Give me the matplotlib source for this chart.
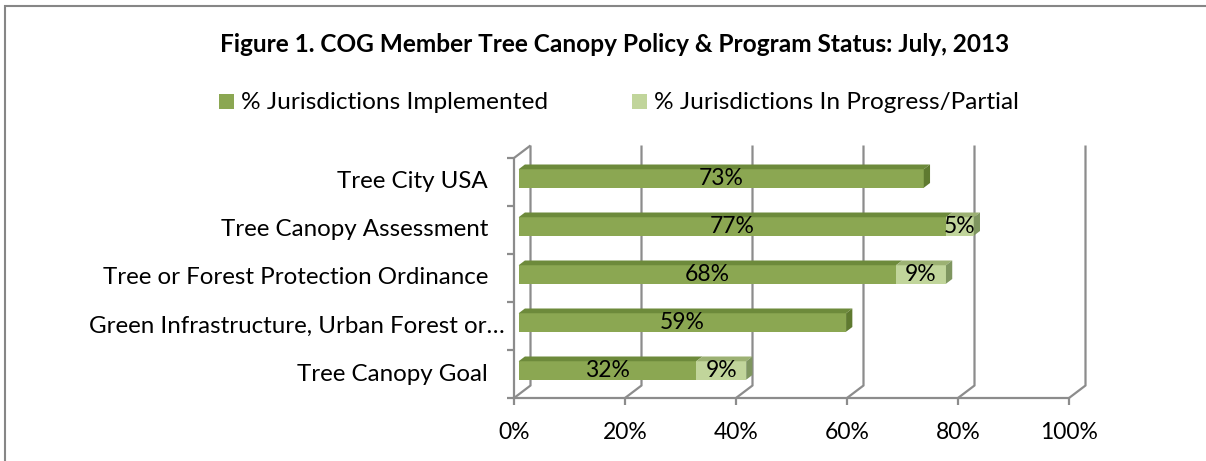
import numpy as np
import matplotlib
matplotlib.use("Agg")
import matplotlib.pyplot as plt
from matplotlib.patches import Polygon, Rectangle
from matplotlib.transforms import offset_copy, IdentityTransform

categories = ["Tree Canopy Goal",
              "Green Infrastructure, Urban Forest or\u2026",
              "Tree or Forest Protection Ordinance",
              "Tree Canopy Assessment",
              "Tree City USA"]
implemented = [32, 59, 68, 77, 73]
in_progress = [9, 0, 9, 5, 0]
xticks = [0, 20, 40, 60, 80, 100]
title = "Figure 1. COG Member Tree Canopy Policy & Program Status: July, 2013"
legend_labels = ["% Jurisdictions Implemented", "% Jurisdictions In Progress/Partial"]

W, H = 1206, 461
plt.rcParams['font.family'] = ['Lato', 'DejaVu Sans']

green = dict(front='#8ba752', top='#6d8a3b', side='#5f7a30')
light = dict(front='#c1d59b', top='#9cb173', side='#7f9660')
grid_c = '#8c8c8c'

fig = plt.figure(figsize=(W / 100, H / 100), dpi=100)
# front plane of the 3d box: 0%..100% -> px 514..1069, rows -> px 398..158
ax = fig.add_axes([514 / W, (H - 398) / H, 555 / W, 240 / H])
ax.set_xlim(0, 100)
ax.set_ylim(-0.5, 4.5)
ax.axis('off')

# depth vector (front -> back wall) in data units
DX, DY = 16.5 / 5.55, 12.5 / 48.0


def pr(x, y, d):
    return (x + d * DX, y + d * DY)


def poly(pts, color, z):
    ax.add_patch(Polygon(pts, closed=True, facecolor=color, edgecolor='none',
                         clip_on=False, zorder=z))


def line(pts, z=1):
    xs, ys = zip(*pts)
    ax.plot(xs, ys, color=grid_c, lw=1.6, clip_on=False, zorder=z,
            solid_capstyle='butt')


ylo, yhi = -0.5, len(categories) - 0.5

# back wall gridlines + floor slants + ticks
for xt in xticks:
    line([pr(xt, ylo, 0), pr(xt, ylo, 1), pr(xt, yhi, 1)])
    line([(xt, ylo), (xt, ylo - 7 / 48)])
    ax.text(xt, ylo, f"{xt}%", ha='center', va='center', fontsize=16.5,
            transform=offset_copy(ax.transData, fig, x=0, y=-34, units='dots'))
# floor front edge
line([(0, ylo), (100, ylo)])
# left wall front edge and top
line([(0, ylo), (0, yhi), pr(0, yhi, 1)])
for k in range(len(categories) + 1):
    yb = ylo + k
    line([(0, yb), (-7 / 5.55, yb)])

# bars
d0, d1 = 0.28, 0.66
hh = 18.5 / 48 / 2
for i, (cat, v1, v2) in enumerate(zip(categories, implemented, in_progress)):
    segs = [(0, v1, green), (v1, v1 + v2, light)] if v2 else [(0, v1, green)]
    for j, (a, b, col) in enumerate(segs):
        # front face
        poly([pr(a, i - hh, d0), pr(b, i - hh, d0), pr(b, i + hh, d0), pr(a, i + hh, d0)],
             col['front'], 3)
        # top face
        poly([pr(a, i + hh, d0), pr(b, i + hh, d0), pr(b, i + hh, d1), pr(a, i + hh, d1)],
             col['top'], 3)
        if j == len(segs) - 1:
            poly([pr(b, i - hh, d0), pr(b, i - hh, d1), pr(b, i + hh, d1), pr(b, i + hh, d0)],
                 col['side'], 3)
        val = b - a
        cx, cy = pr((a + b) / 2, i, d0)
        ax.text(cx, cy, f"{val}%", ha='center', va='center', fontsize=16.5, zorder=5)
    # category label
    xoff = -9 if cat.endswith('\u2026') else -26
    ax.text(0, i, cat, ha='right', va='center', fontsize=17.4,
            transform=offset_copy(ax.transData, fig, x=xoff, y=0, units='dots'))

# title and legend (pixel positions from top-left)
fig.text(615 / W, 1 - 44 / H, title, ha='center', va='center', fontsize=17.6,
         fontweight='bold')
for x0, lab, col in [(219, legend_labels[0], green['front']),
                     (632, legend_labels[1], light['front'])]:
    fig.add_artist(Rectangle((x0, H - 109), 15, 15, facecolor=col, edgecolor='none',
                             transform=IdentityTransform()))
    fig.text((x0 + 22) / W, 1 - 102 / H, lab, ha='left', va='center', fontsize=17.6)

# chart border
fig.add_artist(Rectangle((5, -10), W + 10, H - 6 + 10, facecolor='none',
                         edgecolor='#868686', lw=1.5, transform=IdentityTransform()))

fig.savefig("out.png", dpi=100)
